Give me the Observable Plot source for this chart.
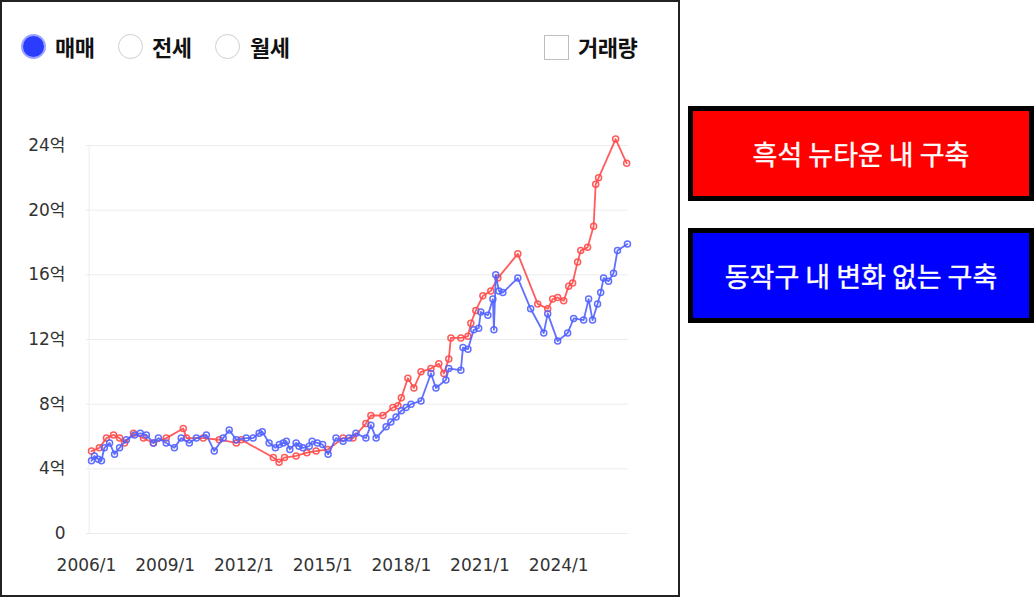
<!DOCTYPE html>
<html><head><meta charset="utf-8">
<script src="https://cdn.jsdelivr.net/npm/d3@7"></script>
<script src="https://cdn.jsdelivr.net/npm/@observablehq/plot@0.6"></script>
<style>
body{margin:0;background:#fff;width:1035px;height:597px;position:relative;overflow:hidden;font-family:"Noto Sans CJK KR","Noto Sans",sans-serif;}
#panel{position:absolute;left:0;top:0;width:676px;height:593px;border:2px solid #222;}
.radio{position:absolute;width:25px;height:25px;border-radius:50%;border:1px solid #cfcfcf;background:#fff;box-sizing:border-box;}
.radio.on{background:#2a3dff;border:2px solid #9aa3ff;}
.lbl{position:absolute;top:31px;line-height:30px;font-size:22px;font-weight:700;color:#111;letter-spacing:-0.5px;}
#chk{position:absolute;left:544px;top:35px;width:25px;height:25px;box-sizing:border-box;border:1px solid #bdbdbd;background:#fff;}
.box{position:absolute;left:688px;width:346px;height:95px;box-sizing:border-box;border:5px solid #000;color:#fff;font-size:27px;display:flex;align-items:center;justify-content:center;font-weight:400;-webkit-text-stroke:0.4px #fff;}
#chart{position:absolute;left:0;top:100px;}
</style></head><body>
<div id="panel"></div>
<div class="radio on" style="left:21px;top:34px"></div>
<div class="lbl" style="left:55px">매매</div>
<div class="radio" style="left:118px;top:34px"></div>
<div class="lbl" style="left:152px">전세</div>
<div class="radio" style="left:215px;top:34px"></div>
<div class="lbl" style="left:250px">월세</div>
<div id="chk"></div>
<div class="lbl" style="left:578px">거래량</div>
<div class="box" style="top:106px;background:#ff0000">흑석 뉴타운 내 구축</div>
<div class="box" style="top:228px;background:#0000ff">동작구 내 변화 없는 구축</div>
<div id="chart"></div>
<script>
const seriesNames = ["흑석 뉴타운 내 구축", "동작구 내 변화 없는 구축"];
const yTicks = [0, 4, 8, 12, 16, 20, 24];
const xTicks = [2006, 2009, 2012, 2015, 2018, 2021, 2024];

const redYears = [2006.19,2006.49,2006.76,2007.03,2007.26,2007.45,2007.79,2008.17,2008.55,2009.04,2009.69,2009.81,2010.45,2011.06,2011.71,2011.90,2013.12,2013.34,2013.55,2013.99,2014.40,2014.75,2015.20,2015.78,2016.16,2016.65,2016.84,2017.30,2017.68,2017.87,2018.00,2018.25,2018.48,2018.75,2019.13,2019.43,2019.62,2019.81,2019.89,2020.27,2020.54,2020.65,2020.84,2021.11,2021.41,2021.68,2022.44,2023.20,2023.58,2023.77,2023.96,2024.19,2024.38,2024.53,2024.72,2024.84,2025.10,2025.33,2025.41,2025.52,2026.17,2026.59];
const redValues = [5.1,5.3,5.9,6.1,5.9,5.6,6.2,5.9,5.6,5.9,6.5,5.9,5.9,5.8,5.6,5.8,4.7,4.4,4.7,4.8,5.0,5.1,5.2,5.9,5.9,6.8,7.3,7.3,7.8,7.9,8.4,9.6,9.0,10.0,10.2,10.5,9.9,10.8,12.1,12.1,12.2,13.0,13.8,14.7,15.0,15.8,17.3,14.2,13.9,14.5,14.6,14.4,15.3,15.5,16.8,17.5,17.7,19.0,21.6,22.0,24.4,22.9];

const blueYears = [2006.19,2006.30,2006.45,2006.57,2006.68,2006.88,2007.07,2007.26,2007.52,2007.83,2008.05,2008.28,2008.55,2008.74,2009.04,2009.35,2009.61,2009.92,2010.19,2010.57,2010.87,2011.21,2011.44,2011.71,2012.09,2012.35,2012.58,2012.70,2012.96,2013.20,2013.35,2013.50,2013.62,2013.75,2013.99,2014.10,2014.25,2014.49,2014.60,2014.80,2015.00,2015.21,2015.51,2015.78,2016.01,2016.27,2016.65,2016.84,2017.04,2017.42,2017.60,2017.80,2018.00,2018.18,2018.37,2018.75,2019.13,2019.32,2019.70,2019.81,2020.27,2020.35,2020.54,2020.76,2020.95,2021.03,2021.30,2021.49,2021.53,2021.60,2021.72,2021.87,2022.44,2022.93,2023.43,2023.58,2023.96,2024.34,2024.57,2024.95,2025.14,2025.29,2025.48,2025.60,2025.71,2025.90,2026.09,2026.24,2026.62];
const blueValues = [4.5,4.8,4.6,4.5,5.3,5.6,4.9,5.3,5.8,6.1,6.2,6.1,5.6,5.9,5.6,5.3,5.9,5.6,5.9,6.1,5.1,5.9,6.4,5.8,5.9,5.9,6.2,6.3,5.6,5.3,5.5,5.6,5.7,5.2,5.6,5.4,5.3,5.4,5.7,5.6,5.5,4.9,5.9,5.7,5.9,6.2,5.9,6.7,5.9,6.6,6.9,7.2,7.6,7.8,8.0,8.2,9.9,9.0,9.5,10.2,10.1,11.5,11.4,12.6,12.7,13.7,13.5,14.5,12.6,16.0,15.0,14.9,15.8,13.9,12.4,13.6,11.9,12.4,13.3,13.2,14.5,13.2,14.2,14.9,15.8,15.6,16.1,17.5,17.9];

const RED = "#ff4a4a", BLUE = "#5060ff";
const red = redYears.map((t, i) => ({t, v: redValues[i], s: seriesNames[0]}));
const blue = blueYears.map((t, i) => ({t, v: blueValues[i], s: seriesNames[1]}));

const tickFont = '"DejaVu Sans","Noto Sans CJK KR",sans-serif';
const chart = Plot.plot({
  width: 660, height: 490,
  marginLeft: 86, marginRight: 32, marginTop: 45, marginBottom: 57,
  style: {fontFamily: tickFont, fontSize: "17px", color: "#333", background: "transparent"},
  x: {domain: [2006, 2026.66], label: null},
  y: {domain: [0, 24], label: null},
  marks: [
    Plot.ruleY(yTicks, {stroke: "#ececec", strokeWidth: 1}),
    Plot.ruleX([2006.1], {y1: 0, y2: 24, stroke: "#ececec"}),
    Plot.axisY(yTicks, {label: null, tickSize: 0, tickPadding: 21, tickFormat: d => d === 0 ? "0" : d + "억", fill: "#333", fontSize: 17, fontFamily: tickFont}),
    Plot.axisX(xTicks, {label: null, tickSize: 0, tickPadding: 25, tickFormat: d => d + "/1", fill: "#333", fontSize: 17, fontFamily: tickFont}),
    Plot.line(red, {x: "t", y: "v", stroke: RED, strokeWidth: 1.8, strokeOpacity: 0.9}),
    Plot.dot(red, {x: "t", y: "v", r: 3, stroke: RED, strokeWidth: 1.5, fill: "none", strokeOpacity: 0.9}),
    Plot.line(blue, {x: "t", y: "v", stroke: BLUE, strokeWidth: 1.8, strokeOpacity: 0.9}),
    Plot.dot(blue, {x: "t", y: "v", r: 3, stroke: BLUE, strokeWidth: 1.5, fill: "none", strokeOpacity: 0.9})
  ]
});
document.getElementById("chart").appendChild(chart);
</script>
</body></html>
